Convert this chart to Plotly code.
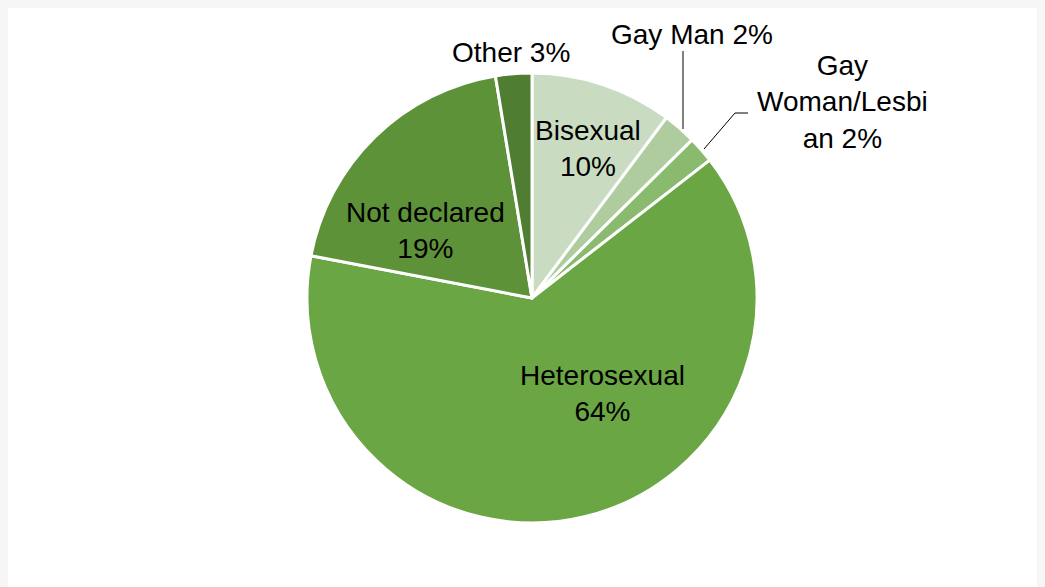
import plotly.graph_objects as go

# Data (clockwise from 12 o'clock)
categories = ["Bisexual", "Gay Man", "Gay Woman/Lesbian", "Heterosexual", "Not declared", "Other"]
values = [10.2, 2.4, 1.9, 63.5, 19.4, 2.6]
colors = ["#C9DCC1", "#AECC9E", "#89BA6D", "#6BA645", "#5E9239", "#4F7D31"]

W, H = 1045, 587
FONT = "Liberation Sans, Arial, sans-serif"
FS = 28
OX, OY = 8, 7  # page offset of the figure inside the window

def px(x):
    return (x - OX) / W

def py(y):
    return 1 - (y - OY) / H

cx, cy, r = 532, 297, 225

fig = go.Figure(go.Pie(
    labels=categories,
    values=values,
    sort=False,
    direction="clockwise",
    rotation=0,
    marker=dict(colors=colors, line=dict(color="white", width=3)),
    textinfo="none",
    hoverinfo="label+percent",
    showlegend=False,
    domain=dict(x=[px(cx - r), px(cx + r)], y=[py(cy + r), py(cy - r)]),
))

pct = [f"{round(v)}%" for v in values]
label_text = {
    "Bisexual": f"{categories[0]}<br>{pct[0]}",
    "Gay Man": f"{categories[1]} {pct[1]}",
    "Gay Woman/Lesbian": "Gay<br>Woman/Lesbi<br>an " + pct[2],
    "Heterosexual": f"{categories[3]}<br>{pct[3]}",
    "Not declared": f"{categories[4]}<br>{pct[4]}",
    "Other": f"{categories[5]} {pct[5]}",
}
label_pos = {
    "Bisexual": (588, 148),
    "Gay Man": (692, 33),
    "Gay Woman/Lesbian": (842, 101),
    "Heterosexual": (602, 392),
    "Not declared": (425, 229),
    "Other": (511, 51),
}

annotations = []
for c in categories:
    x, y = label_pos[c]
    annotations.append(dict(
        x=px(x), y=py(y), xref="paper", yref="paper",
        text=label_text[c], showarrow=False, align="center",
        xanchor="center", yanchor="middle",
        font=dict(family=FONT, size=FS, color="#000000"),
    ))

shapes = [
    dict(type="line", xref="paper", yref="paper", x0=px(683), y0=py(50), x1=px(683), y1=py(128),
         line=dict(color="#000000", width=1)),
    dict(type="path", xref="paper", yref="paper",
         path=f"M {px(704)},{py(148)} L {px(735)},{py(112)} L {px(748)},{py(112)}",
         line=dict(color="#000000", width=1)),
]

fig.update_layout(
    width=W, height=H,
    margin=dict(l=0, r=0, t=0, b=0),
    paper_bgcolor="white",
    plot_bgcolor="white",
    annotations=annotations,
    shapes=shapes,
)

fig.write_html("out.html", post_script="document.body.style.background='#F6F6F6';")
